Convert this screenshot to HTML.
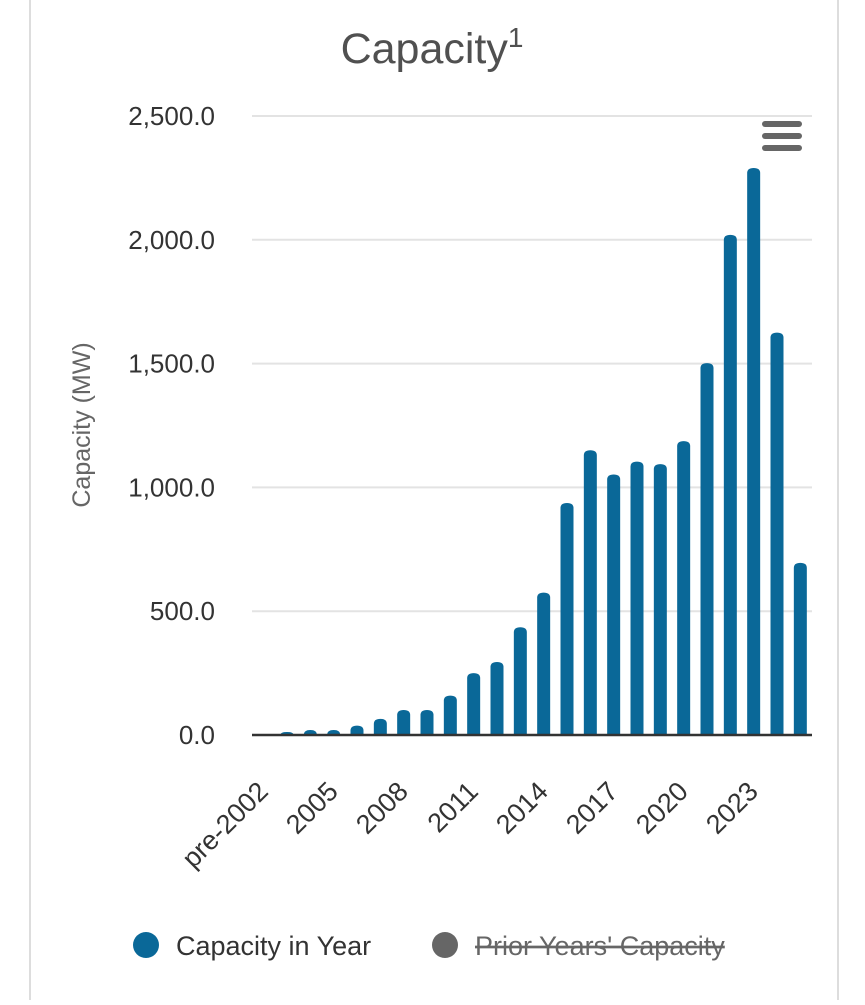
<!DOCTYPE html>
<html><head><meta charset="utf-8"><style>
body{margin:0;background:#fff;width:865px;height:1000px;overflow:hidden;font-family:"Liberation Sans",sans-serif;}
</style></head><body>
<svg width="865" height="1000">
<line x1="30" y1="0" x2="30" y2="1000" stroke="#ddd" stroke-width="2"/>
<line x1="838" y1="0" x2="838" y2="1000" stroke="#ddd" stroke-width="2"/>
<text x="432" y="63" text-anchor="middle" font-size="43" fill="#505050">Capacity<tspan dy="-16" font-size="28">1</tspan></text>
<text transform="translate(90,425) rotate(-90)" text-anchor="middle" font-size="25" fill="#666">Capacity (MW)</text>
<g id="grid"></g><g id="bars"></g><g id="xlabels"></g>
<g>
<rect x="762" y="121" width="40" height="6" rx="3" fill="#666"/><rect x="762" y="133" width="40" height="6" rx="3" fill="#666"/><rect x="762" y="145" width="40" height="6" rx="3" fill="#666"/>
</g>
<g><circle cx="146" cy="945" r="13" fill="#0a6898"/><text x="176" y="955" font-size="27" fill="#333">Capacity in Year</text></g>
<g><circle cx="445" cy="945" r="13" fill="#666"/><text x="475" y="955" font-size="27" fill="#666" text-decoration="line-through">Prior Years' Capacity</text></g>
</svg>
<script>
const categories=["pre-2002","2003","2004","2005","2006","2007","2008","2009","2010","2011","2012","2013","2014","2015","2016","2017","2018","2019","2020","2021","2022","2023","2024","2025"];
const values=[0,12,20,20,38,65,101,101,159,250,295,435,575,937,1150,1052,1104,1094,1187,1502,2020,2290,1625,695];
const yTicks=[0,500,1000,1500,2000,2500];
const NS="http://www.w3.org/2000/svg";
const x0=252,x1=812,y0=735,yTop=116,yMax=2500;
const bw=(x1-x0)/categories.length;
const X=i=>x0+bw*(i+0.5);
const Y=v=>y0-(v/yMax)*(y0-yTop);
function mk(t,a,p){const e=document.createElementNS(NS,t);for(const k in a)e.setAttribute(k,a[k]);p.appendChild(e);return e;}
const grid=document.getElementById('grid');
yTicks.forEach(v=>{
 if(v>0){const l=mk('line',{x1:x0,x2:x1,y1:Y(v),y2:Y(v),stroke:'#e3e3e3','stroke-width':2},grid);
 
 }
 const t=mk('text',{x:215,y:Y(v)+9,'text-anchor':'end','font-size':26,fill:'#333'},grid);
 t.textContent=v.toLocaleString('en-US',{minimumFractionDigits:1,maximumFractionDigits:1});
 
 
});
const bars=document.getElementById('bars');
values.forEach((v,i)=>{
 if(v<=0)return;
 const w=13,top=Y(v),h=y0-top;
 const r=Math.min(5,h);
 const p=mk('path',{d:`M${X(i)-w/2},${y0} V${top+r} Q${X(i)-w/2},${top} ${X(i)},${top} Q${X(i)+w/2},${top} ${X(i)+w/2},${top+r} V${y0} Z`,fill:'#0a6898'},bars);
 
 
});
const ax=mk('line',{x1:x0,x2:x1,y1:y0,y2:y0,stroke:'#333','stroke-width':2.5},bars);


const xl=document.getElementById('xlabels');
categories.forEach((c,i)=>{
 if(i%3!==0)return;
 const t=mk('text',{transform:`translate(${X(i)+6},${y0+58}) rotate(-45)`,'text-anchor':'end','font-size':27,fill:'#333'},xl);
 t.textContent=c;
 
 
});
</script>
</body></html>
